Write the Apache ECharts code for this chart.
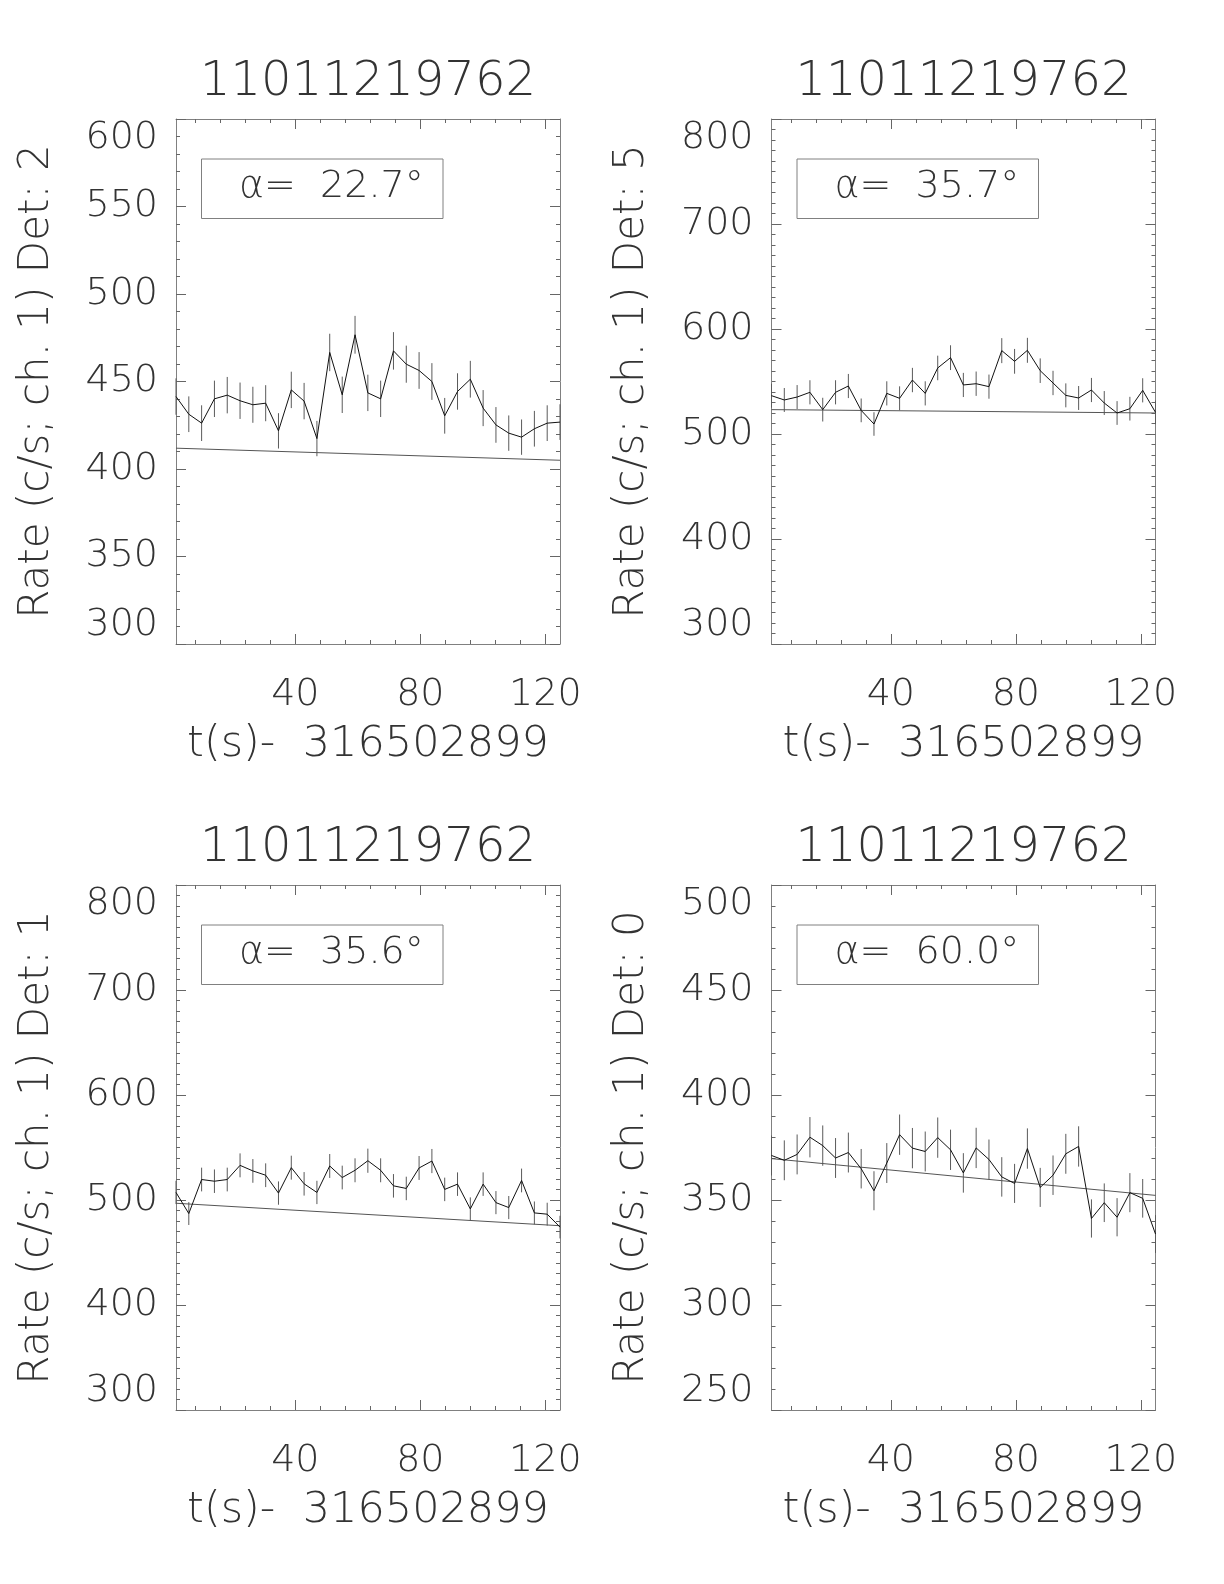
<!DOCTYPE html>
<html><head><meta charset="utf-8">
<script src="https://cdn.jsdelivr.net/npm/echarts@6/dist/echarts.min.js"></script>
<style>html,body{margin:0;padding:0;background:#fff}#c{width:1224px;height:1584px}</style>
</head><body><div id="c"></div>
<script>
// ---------- data ----------
const titleText = '11011219762';
const xName = 't(s)-  316502899';
const time = [1.8, 5.9, 10.0, 14.1, 18.2, 22.3, 26.4, 30.5, 34.6, 38.7, 42.8, 46.9, 51.0, 55.0, 59.1,
  63.2, 67.3, 71.4, 75.5, 79.6, 83.7, 87.8, 91.9, 96.0, 100.1, 104.2, 108.3, 112.4, 116.5, 120.6, 124.7];
const xMin = 1.8, xMax = 124.7;
const xMajorTicks = [40, 80, 120];
const xMinorTicks = [8, 16, 24, 32, 48, 56, 64, 72, 88, 96, 104, 112];
const detLabels = ['Det: 2', 'Det: 5', 'Det: 1', 'Det: 0'];
const alphaValues = ['22.7', '35.7', '35.6', '60.0'];

const rateDet2 = [441.4, 431.3, 426.2, 440.1, 442.2, 439.0, 436.7, 437.6, 421.8, 445.2, 438.8, 417.4, 466.6, 442.4, 476.7,
  443.5, 440.1, 467.5, 459.9, 456.3, 450.0, 430.4, 444.3, 451.3, 434.8, 425.2, 420.5, 418.2, 423.0, 426.2, 426.8];
const errDet2 = [10.4, 10.2, 10.2, 10.4, 10.4, 10.4, 10.3, 10.3, 10.1, 10.4, 10.4, 10.1, 10.7, 10.4, 10.8,
  10.4, 10.4, 10.7, 10.6, 10.5, 10.5, 10.2, 10.4, 10.5, 10.3, 10.2, 10.1, 10.1, 10.2, 10.2, 10.2];
const fitDet2 = [411.9, 405.0];

const rateDet5 = [536.5, 532.4, 535.2, 539.7, 523.2, 539.7, 545.7, 522.5, 509.5, 538.7, 534.0, 551.4, 538.7, 562.9, 572.7,
  546.7, 547.9, 545.1, 579.4, 569.2, 579.7, 560.3, 548.6, 536.8, 534.3, 541.9, 529.5, 520.0, 524.1, 541.6, 520.6];
const errDet5 = [11.4, 11.4, 11.4, 11.5, 11.3, 11.5, 11.5, 11.3, 11.2, 11.5, 11.4, 11.6, 11.5, 11.7, 11.8,
  11.5, 11.6, 11.5, 11.9, 11.8, 11.9, 11.7, 11.6, 11.4, 11.4, 11.5, 11.4, 11.3, 11.3, 11.5, 11.3];
const fitDet5 = [523.2, 520.0];

const rateDet1 = [507.2, 487.1, 519.5, 517.9, 519.5, 533.0, 527.7, 523.6, 506.6, 530.8, 515.4, 507.2, 532.4, 521.4, 528.3,
  537.4, 528.3, 513.5, 511.0, 530.5, 537.1, 510.1, 515.1, 491.5, 515.1, 497.5, 492.8, 518.6, 487.7, 486.5, 474.2];
const errDet1 = [11.1, 10.9, 11.3, 11.2, 11.3, 11.4, 11.3, 11.3, 11.1, 11.4, 11.2, 11.1, 11.4, 11.3, 11.4,
  11.5, 11.4, 11.2, 11.2, 11.4, 11.5, 11.2, 11.2, 11.0, 11.2, 11.0, 11.0, 11.3, 10.9, 10.9, 10.8];
const fitDet1 = [496.9, 475.5];

const rateDet0 = [371.2, 368.9, 371.7, 379.9, 375.9, 370.0, 372.6, 364.9, 354.4, 367.6, 381.1, 374.7, 373.1, 379.7, 373.9,
  362.9, 374.8, 369.3, 361.0, 357.9, 374.5, 356.0, 361.8, 372.0, 375.5, 341.2, 348.7, 341.8, 353.5, 350.8, 333.8];
const errDet0 = [9.5, 9.5, 9.5, 9.6, 9.6, 9.5, 9.5, 9.4, 9.3, 9.5, 9.6, 9.6, 9.5, 9.6, 9.6,
  9.4, 9.6, 9.5, 9.4, 9.3, 9.6, 9.3, 9.4, 9.5, 9.6, 9.1, 9.2, 9.1, 9.3, 9.2, 9.0];
const fitDet0 = [369.7, 352.2];

const yMins = [300, 300, 300, 250];
const yMaxs = [600, 800, 800, 500];
const yIntervals = [50, 100, 100, 50];
const yMinorSplits = [5, 10, 10, 5];

// ---------- layout / style ----------
const rates = [rateDet2, rateDet5, rateDet1, rateDet0];
const errs = [errDet2, errDet5, errDet1, errDet0];
const fits = [fitDet2, fitDet5, fitDet1, fitDet0];
const gridPos = [{left: 176, top: 119}, {left: 771.5, top: 119}, {left: 176, top: 885}, {left: 771.5, top: 885}];
const GW = 384, GH = 525;
const FONT = 'DejaVu Sans';
const TXT = '#333';
const FRAME = '#808080';
const TICK = '#666';

const grid = [], xAxis = [], yAxis = [], series = [], graphic = [];

gridPos.forEach((g, p) => {
  grid.push({left: g.left, top: g.top, width: GW, height: GH, containLabel: false});
  const xBase = {
    type: 'value', gridIndex: p, min: xMin, max: xMax, splitLine: {show: false},
    axisLine: {show: true, onZero: false, lineStyle: {color: FRAME, width: 1}}
  };
  xAxis.push(Object.assign({}, xBase, {
    position: 'bottom', name: xName, nameLocation: 'middle', nameGap: 79,
    nameTextStyle: {fontFamily: FONT, fontSize: 43, fontWeight: 200, color: TXT},
    axisTick: {show: true, inside: true, length: 10, customValues: xMajorTicks, lineStyle: {color: TICK}},
    axisLabel: {show: true, customValues: xMajorTicks, margin: 32, fontFamily: FONT, fontSize: 38, fontWeight: 200, color: TXT}
  }));
  xAxis.push(Object.assign({}, xBase, {
    position: 'bottom', axisLine: {show: false, onZero: false},
    axisTick: {show: true, inside: true, length: 4, customValues: xMinorTicks, lineStyle: {color: TICK}},
    axisLabel: {show: false}
  }));
  xAxis.push(Object.assign({}, xBase, {
    position: 'top',
    axisTick: {show: true, inside: true, length: 10, customValues: xMajorTicks, lineStyle: {color: TICK}},
    axisLabel: {show: false}
  }));
  xAxis.push(Object.assign({}, xBase, {
    position: 'top', axisLine: {show: false, onZero: false},
    axisTick: {show: true, inside: true, length: 4, customValues: xMinorTicks, lineStyle: {color: TICK}},
    axisLabel: {show: false}
  }));

  const yBase = {
    type: 'value', gridIndex: p, min: yMins[p], max: yMaxs[p], interval: yIntervals[p],
    splitLine: {show: false},
    axisLine: {show: true, onZero: false, lineStyle: {color: FRAME, width: 1}},
    axisTick: {show: true, inside: true, length: 10, lineStyle: {color: TICK}},
    minorTick: {show: true, splitNumber: yMinorSplits[p], length: 4, lineStyle: {color: TICK}},
    minorSplitLine: {show: false}
  };
  yAxis.push(Object.assign({}, yBase, {
    position: 'left',
    name: 'Rate (c/s; ch. 1) ' + detLabels[p], nameLocation: 'middle', nameRotate: 90, nameGap: 118,
    nameTextStyle: {fontFamily: FONT, fontSize: 42, fontWeight: 200, color: TXT},
    axisLabel: {show: true, margin: 18, fontFamily: FONT, fontSize: 38, fontWeight: 200, color: TXT,
      verticalAlignMinLabel: 'bottom', verticalAlignMaxLabel: 'top'}
  }));
  yAxis.push(Object.assign({}, yBase, {position: 'right', axisLabel: {show: false}}));

  const xi = 4 * p, yi = 2 * p;
  series.push({
    type: 'custom', xAxisIndex: xi, yAxisIndex: yi, silent: true, clip: false,
    data: time.map((t, i) => [t, rates[p][i] - errs[p][i], rates[p][i] + errs[p][i]]),
    encode: {x: 0, y: [1, 2]},
    renderItem: function (params, api) {
      const a = api.coord([api.value(0), api.value(1)]);
      const b = api.coord([api.value(0), api.value(2)]);
      return {type: 'line', shape: {x1: a[0], y1: a[1], x2: b[0], y2: b[1]},
        style: {stroke: '#5a5a5a', lineWidth: 1}};
    }
  });
  series.push({
    type: 'line', xAxisIndex: xi, yAxisIndex: yi, silent: true,
    data: [[xMin, fits[p][0]], [xMax, fits[p][1]]],
    showSymbol: false, symbol: 'none', lineStyle: {color: '#555', width: 1}
  });
  series.push({
    type: 'line', xAxisIndex: xi, yAxisIndex: yi, silent: true,
    data: time.map((t, i) => [t, rates[p][i]]),
    showSymbol: false, symbol: 'none', lineStyle: {color: '#111', width: 1}
  });

  // title
  graphic.push({
    type: 'text', x: g.left + GW / 2, y: g.top - 36,
    style: {text: titleText, fontFamily: FONT, fontSize: 48, fontWeight: 200, fill: TXT,
      align: 'center', verticalAlign: 'middle'}
  });
  // alpha box
  graphic.push({
    type: 'rect', shape: {x: g.left + 25.5, y: g.top + 40, width: 241.5, height: 59.5},
    style: {fill: 'none', stroke: FRAME, lineWidth: 1}
  });
  graphic.push({
    type: 'text', x: g.left + 63, y: g.top + 68,
    style: {
      text: 'α=  ' + alphaValues[p] + '°',
      fontFamily: FONT, fontSize: 38, fontWeight: 200, fill: TXT, align: 'left', verticalAlign: 'middle'
    }
  });
});

const chart = echarts.init(document.getElementById('c'), null, {renderer: 'canvas'});
chart.setOption({
  backgroundColor: '#fff', animation: false,
  grid, xAxis, yAxis, series, graphic
});
</script>
</body></html>
